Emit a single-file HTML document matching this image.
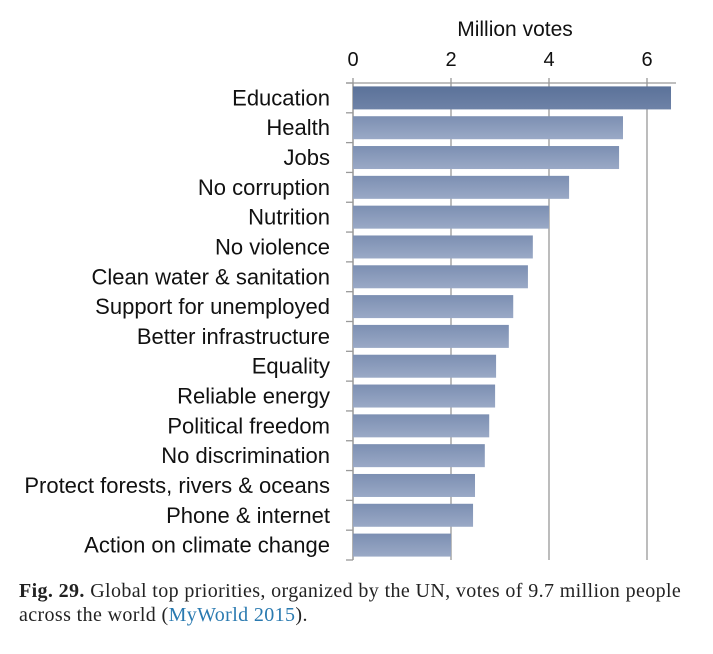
<!DOCTYPE html>
<html><head><meta charset="utf-8"><style>
body{margin:0;background:#fff;width:713px;height:654px;overflow:hidden}
.cap{position:absolute;left:19px;top:579px;width:690px;font-family:"Liberation Serif",serif;font-size:20px;letter-spacing:0.38px;line-height:24px;color:#222}
.cap a{color:#2a7ab0;text-decoration:none}
</style></head><body>
<svg id="chart" width="713" height="570" style="position:absolute;left:0;top:0" font-family="Liberation Sans, sans-serif"></svg>
<div class="cap"><b>Fig. 29.</b> Global top priorities, organized by the UN, votes of 9.7 million people<br>across the world (<a>MyWorld 2015</a>).</div>
<script>
const categories=["Education","Health","Jobs","No corruption","Nutrition","No violence","Clean water & sanitation","Support for unemployed","Better infrastructure","Equality","Reliable energy","Political freedom","No discrimination","Protect forests, rivers & oceans","Phone & internet","Action on climate change"];
const values=[6.49,5.51,5.43,4.41,4.0,3.67,3.57,3.27,3.18,2.92,2.90,2.78,2.69,2.49,2.45,2.0];
const ticks=[0,2,4,6];
const svg=document.getElementById('chart');
const NS='http://www.w3.org/2000/svg';
const x0=353,ppu=49,yTop=83,rowH=(560-83)/16;
const x=v=>x0+v*ppu;
function mk(t,a){const e=document.createElementNS(NS,t);for(const k in a)e.setAttribute(k,a[k]);svg.appendChild(e);return e;}
let d=`<linearGradient id="g1" x1="0" y1="0" x2="0" y2="1"><stop offset="0" stop-color="#7c8fb2"/><stop offset="1" stop-color="#9aa9c6"/></linearGradient><linearGradient id="g0" x1="0" y1="0" x2="0" y2="1"><stop offset="0" stop-color="#5b7299"/><stop offset="1" stop-color="#6e82a7"/></linearGradient>`;
const defs=mk('defs',{});defs.innerHTML=d;
let t=mk('text',{x:515,y:36,'font-size':21,'text-anchor':'middle',fill:'#111'});t.textContent='Million votes';


ticks.forEach(v=>{
 const g=mk('line',{x1:x(v),x2:x(v),y1:yTop-5,y2:560,stroke:'#999','stroke-width':1.3});
 
 
 const l=mk('text',{x:x(v),y:66,'font-size':20,'text-anchor':'middle',fill:'#111'});l.textContent=v;
 
 
});
const ax=mk('line',{x1:346,x2:676,y1:yTop,y2:yTop,stroke:'#999','stroke-width':1.3});


const ay=mk('line',{x1:x0,x2:x0,y1:yTop,y2:560,stroke:'#999','stroke-width':1.3});


for(let i=0;i<=16;i++){const tk=mk('line',{x1:346,x2:x0,y1:yTop+i*rowH,y2:yTop+i*rowH,stroke:'#999','stroke-width':1.3});
 
 }
categories.forEach((c,i)=>{
 const cy=yTop+(i+0.5)*rowH;
 const r=mk('rect',{x:x0,y:cy-11.5,width:x(values[i])-x0,height:23,fill:i===0?'url(#g0)':'url(#g1)'});
 
 
 const l=mk('text',{x:330,y:cy+7.5,'font-size':22,'text-anchor':'end',fill:'#111'});l.textContent=c;
 
 
});
</script>
</body></html>
